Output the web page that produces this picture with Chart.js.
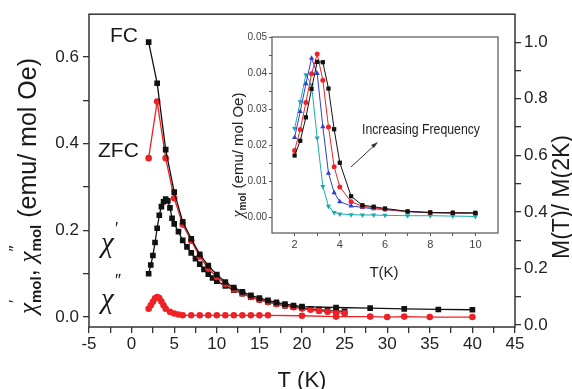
<!DOCTYPE html>
<html>
<head>
<meta charset="utf-8">
<script src="https://cdn.jsdelivr.net/npm/chart.js@4.4.1/dist/chart.umd.min.js"></script>
<style>
  html, body { margin: 0; padding: 0; background: #fff; }
  #wrap { position: relative; width: 572px; height: 389px; overflow: hidden; }
  #mainBox { position: absolute; left: 0; top: 0; width: 572px; height: 389px; }
  #insetBox { position: absolute; left: 228px; top: 28px; width: 280px; height: 255px; }
</style>
</head>
<body>
<div id="wrap">
  <div id="mainBox"><canvas id="mainChart"></canvas></div>
  <div id="insetBox"><canvas id="insetChart"></canvas></div>
</div>
<script>
// ---- main panel : chi' / chi'' (left axis), FC / ZFC magnetisation (right axis) ----
const tChiReal = [2, 2.25, 2.5, 2.75, 3, 3.25, 3.5, 3.75, 4, 4.25, 4.5, 4.75, 5, 5.5, 6, 6.5, 7, 7.5, 8, 8.5, 9, 9.5, 10,
                  11, 12, 13, 14, 15, 16, 17, 18, 19, 20, 21, 22, 23, 24, 25];
const chiReal  = [0.100, 0.120, 0.142, 0.172, 0.205, 0.235, 0.255, 0.266, 0.272, 0.268, 0.252, 0.228, 0.215, 0.197, 0.177,
                  0.162, 0.148, 0.135, 0.122, 0.110, 0.099, 0.090, 0.083,
                  0.072, 0.062, 0.054, 0.046, 0.040, 0.035, 0.030, 0.026, 0.023, 0.021, 0.019, 0.017, 0.015, 0.014, 0.013];

const tChiImag = [2, 2.25, 2.5, 2.75, 3, 3.25, 3.5, 3.75, 4, 4.5, 5, 5.5, 6, 7, 8, 9, 10, 11, 12, 13, 14, 15, 16,
                  20, 24, 28, 30, 32, 35, 40];
const chiImag  = [0.019, 0.027, 0.035, 0.043, 0.046, 0.044, 0.036, 0.027, 0.019, 0.012, 0.008, 0.006, 0.004,
                  0.004, 0.004, 0.004, 0.004, 0.004, 0.004, 0.004, 0.004, 0.004, 0.004,
                  0.003, 0.001, 0.001, 0.000, 0.001, 0.000, 0.000];

const tFC = [2, 3, 4, 5, 6, 7, 8, 9, 10, 11, 12, 13, 14, 15, 16, 17, 18, 19, 20, 24, 28, 32, 36, 40];
const fc  = [1.0, 0.855, 0.62, 0.47, 0.365, 0.305, 0.25, 0.21, 0.178, 0.152, 0.132, 0.117, 0.105, 0.095,
             0.087, 0.080, 0.074, 0.069, 0.065, 0.062, 0.060, 0.057, 0.055, 0.054];

const tZFC = [2, 3, 4, 5, 6, 7, 8, 9, 10, 11, 12, 13, 14, 15, 16, 17, 18, 19, 20, 21, 22, 23, 24, 25];
const zfc  = [0.59, 0.79, 0.59, 0.448, 0.355, 0.298, 0.242, 0.20, 0.17, 0.146, 0.126, 0.112, 0.099, 0.089,
              0.081, 0.074, 0.068, 0.063, 0.058, 0.054, 0.050, 0.047, 0.044, 0.041];

const xTicks  = [-5, -2.5, 0, 2.5, 5, 7.5, 10, 12.5, 15, 17.5, 20, 22.5, 25, 27.5, 30, 32.5, 35, 37.5, 40, 42.5, 45];
const yLTicks = [0, 0.1, 0.2, 0.3, 0.4, 0.5, 0.6];
const yRTicks = [0, 0.1, 0.2, 0.3, 0.4, 0.5, 0.6, 0.7, 0.8, 0.9, 1.0];

// ---- inset : chi'' at several frequencies ----
const tInset = [2, 2.25, 2.5, 2.75, 3, 3.25, 3.5, 3.75, 4, 4.5, 5, 5.5, 6, 7, 8, 9, 10];
const fq1 = [0.0171, 0.0212, 0.0277, 0.0356, 0.0431, 0.0430, 0.0357, 0.0244, 0.0151, 0.0058, 0.0033, 0.0029, 0.0024, 0.0016, 0.0013, 0.0012, 0.0012];
const fq2 = [0.0185, 0.0243, 0.0318, 0.0398, 0.0453, 0.0380, 0.0250, 0.0140, 0.0084, 0.0043, 0.0030, 0.0026, 0.0022, 0.0016, 0.0013, 0.0012, 0.0011];
const fq3 = [0.0221, 0.0293, 0.0370, 0.0441, 0.0399, 0.0251, 0.0122, 0.0068, 0.0043, 0.0031, 0.0027, 0.0023, 0.0021, 0.0015, 0.0012, 0.0011, 0.0010];
const fq4 = [0.0246, 0.0320, 0.0395, 0.0367, 0.0220, 0.0085, 0.0030, 0.0013, 0.0009, 0.0007, 0.0006, 0.0006, 0.0005, 0.0004, 0.0004, 0.0003, 0.0002];

const inXTicks = [2, 3, 4, 5, 6, 7, 8, 9, 10];
const inYTicks = [0, 0.005, 0.01, 0.015, 0.02, 0.025, 0.03, 0.035, 0.04, 0.045, 0.05];

const BLACK = '#111111';
const RED = '#ee2226';
const BLUE = '#2e3fcf';
const CYAN = '#1caab2';
const AXIS = '#333333';
const SANS = 'Liberation Sans, Arial, sans-serif';
const SERIF = 'Liberation Serif, Times New Roman, serif';

const pts = (xs, ys) => xs.map((x, i) => ({ x: x, y: ys[i] }));
const near = (v, step) => Math.abs(v / step - Math.round(v / step)) < 1e-6;

// text made of pieces (sub/superscripts), optionally rotated, centred on cx
function drawRich(ctx, parts, x, y, angle) {
    ctx.save();
    ctx.translate(x, y);
    ctx.rotate(angle);
    ctx.textBaseline = 'alphabetic';
    ctx.textAlign = 'left';
    let total = 0;
    parts.forEach(p => { ctx.font = p.f; if (!p.keep) total += ctx.measureText(p.t).width; });
    let cur = -total / 2;
    parts.forEach(p => {
        ctx.font = p.f;
        ctx.fillText(p.t, cur, p.dy || 0);
        if (!p.keep) cur += ctx.measureText(p.t).width;
    });
    ctx.restore();
}

const mainDecor = {
    id: 'mainDecor',
    afterDraw(chart) {
        const ctx = chart.ctx, a = chart.chartArea;
        ctx.save();
        ctx.strokeStyle = AXIS;
        ctx.lineWidth = 1.5;
        ctx.strokeRect(a.left, a.top, a.right - a.left, a.bottom - a.top);

        ctx.fillStyle = '#1a1a1a';
        ctx.textBaseline = 'alphabetic';
        ctx.font = '21px ' + SANS;
        ctx.fillText('FC', 110, 42);
        ctx.fillText('ZFC', 98, 157);

        ctx.font = 'italic 29px ' + SERIF;
        ctx.fillText('χ', 101, 252);
        ctx.fillText('χ', 101, 308);
        ctx.font = '17px ' + SANS;
        ctx.fillText('′', 115, 234);
        ctx.fillText('″', 115, 286);

        ctx.font = '22px ' + SANS;
        ctx.textAlign = 'center';
        ctx.fillText('T (K)', 302, 387);

        const big = '25px ' + SANS, chi = 'italic 25px ' + SERIF;
        const sub = 'bold 15px ' + SANS, sup = '17px ' + SANS;
        drawRich(ctx, [
            { t: 'χ', f: chi },
            { t: '′', f: sup, dy: -15, keep: true },
            { t: 'mol', f: sub, dy: 5 },
            { t: ', ', f: big },
            { t: 'χ', f: chi },
            { t: '″', f: sup, dy: -15, keep: true },
            { t: 'mol', f: sub, dy: 5 },
            { t: ' (emu/ mol Oe)', f: big }
        ], 36, 186, -Math.PI / 2);

        drawRich(ctx, [{ t: 'M(T)/ M(2K)', f: '23px ' + SANS }], 569, 197, -Math.PI / 2);
        ctx.restore();
    }
};

const axisCommon = {
    grid: { drawOnChartArea: false, drawTicks: true, tickLength: 6, color: AXIS, lineWidth: 1.3 },
    border: { display: false }
};

new Chart(document.getElementById('mainChart'), {
    type: 'line',
    data: {
        datasets: [
            { label: 'FC', data: pts(tFC, fc), yAxisID: 'yR', borderColor: BLACK, backgroundColor: BLACK,
              pointStyle: 'rect', pointRadius: 4 },
            { label: 'ZFC', data: pts(tZFC, zfc), yAxisID: 'yR', borderColor: RED, backgroundColor: RED,
              pointStyle: 'circle', pointRadius: 3.3 },
            { label: "chi'", data: pts(tChiReal, chiReal), yAxisID: 'yL', borderColor: BLACK, backgroundColor: BLACK,
              pointStyle: 'rect', pointRadius: 4 },
            { label: "chi''", data: pts(tChiImag, chiImag), yAxisID: 'yL', borderColor: RED, backgroundColor: RED,
              pointStyle: 'circle', pointRadius: 3.3 }
        ]
    },
    options: {
        responsive: true, maintainAspectRatio: false, animation: false,
        layout: { padding: { top: 14, left: 0, right: 0, bottom: 0 } },
        plugins: { legend: { display: false }, tooltip: { enabled: false } },
        elements: { line: { borderWidth: 1.3, tension: 0 }, point: { borderWidth: 0 } },
        scales: {
            x: Object.assign({}, axisCommon, {
                type: 'linear', min: -5, max: 45,
                afterFit: s => { s.height = 62; },
                afterBuildTicks: s => { s.ticks = xTicks.map(v => ({ value: v })); },
                ticks: { autoSkip: false, maxRotation: 0, padding: 1, color: '#222', font: { family: SANS, size: 17 },
                         callback: v => near(v, 5) ? String(v) : '' }
            }),
            yL: Object.assign({}, axisCommon, {
                type: 'linear', position: 'left', min: -0.023, max: 0.699,
                afterFit: s => { s.width = 89; },
                afterBuildTicks: s => { s.ticks = yLTicks.map(v => ({ value: v })); },
                ticks: { autoSkip: false, padding: 4, color: '#222', font: { family: SANS, size: 17 },
                         callback: v => near(v, 0.2) ? v.toFixed(1) : '' }
            }),
            yR: Object.assign({}, axisCommon, {
                type: 'linear', position: 'right', min: -0.007, max: 1.099,
                afterFit: s => { s.width = 57; },
                afterBuildTicks: s => { s.ticks = yRTicks.map(v => ({ value: v })); },
                ticks: { autoSkip: false, padding: 3, color: '#222', font: { family: SANS, size: 17 },
                         callback: v => near(v, 0.2) ? v.toFixed(1) : '' }
            })
        }
    },
    plugins: [mainDecor]
});

const insetDecor = {
    id: 'insetDecor',
    afterDraw(chart) {
        const ctx = chart.ctx, a = chart.chartArea;
        ctx.save();
        ctx.strokeStyle = '#555';
        ctx.lineWidth = 1.2;
        ctx.strokeRect(a.left, a.top, a.right - a.left, a.bottom - a.top);

        ctx.fillStyle = '#222';
        ctx.font = '15px ' + SANS;
        ctx.textAlign = 'center';
        ctx.fillText('T(K)', 156, 249);

        drawRich(ctx, [
            { t: 'χ', f: 'italic 16px ' + SERIF },
            { t: '″', f: '11px ' + SANS, dy: -10, keep: true },
            { t: 'mol', f: 'bold 10px ' + SANS, dy: 3 },
            { t: ' (emu/ mol Oe)', f: '15px ' + SANS }
        ], 15, 127, -Math.PI / 2);

        // "Increasing Frequency" label, squeezed like the original
        ctx.save();
        ctx.font = '14px ' + SANS;
        const w = ctx.measureText('Increasing Frequency').width;
        ctx.translate(134, 106);
        ctx.scale(118 / w, 1);
        ctx.textAlign = 'left';
        ctx.fillText('Increasing Frequency', 0, 0);
        ctx.restore();

        // arrow
        ctx.strokeStyle = '#333';
        ctx.lineWidth = 1;
        ctx.beginPath();
        ctx.moveTo(123, 139);
        ctx.lineTo(149, 115);
        ctx.stroke();
        ctx.fillStyle = '#333';
        ctx.beginPath();
        ctx.moveTo(150, 114);
        ctx.lineTo(143, 117);
        ctx.lineTo(146, 120);
        ctx.closePath();
        ctx.fill();
        ctx.restore();
    }
};

const inAxis = {
    grid: { drawOnChartArea: false, drawTicks: true, tickLength: 3, color: '#555', lineWidth: 1 },
    border: { display: false }
};

const inSet = (data, color, style, r, rot) => ({
    data: pts(tInset, data), borderColor: color, backgroundColor: color,
    pointStyle: style, pointRadius: r, pointRotation: rot || 0, borderWidth: 1, pointBorderWidth: 0
});

new Chart(document.getElementById('insetChart'), {
    type: 'line',
    data: {
        datasets: [
            inSet(fq1, BLACK, 'rect', 3),
            inSet(fq2, RED, 'circle', 2.5),
            inSet(fq3, BLUE, 'triangle', 3),
            inSet(fq4, CYAN, 'triangle', 3, 180)
        ]
    },
    options: {
        responsive: true, maintainAspectRatio: false, animation: false,
        layout: { padding: { top: 9, right: 10, left: 0, bottom: 0 } },
        plugins: { legend: { display: false }, tooltip: { enabled: false } },
        elements: { line: { tension: 0 } },
        scales: {
            x: Object.assign({}, inAxis, {
                type: 'linear', min: 1, max: 11,
                afterFit: s => { s.height = 50; },
                afterBuildTicks: s => { s.ticks = inXTicks.map(v => ({ value: v })); },
                ticks: { autoSkip: false, maxRotation: 0, padding: 2, color: '#444', font: { family: SANS, size: 11 },
                         callback: v => near(v, 2) ? String(v) : '' }
            }),
            y: Object.assign({}, inAxis, {
                type: 'linear', min: -0.0044, max: 0.05,
                afterFit: s => { s.width = 44; },
                afterBuildTicks: s => { s.ticks = inYTicks.map(v => ({ value: v })); },
                ticks: { autoSkip: false, padding: 2, color: '#444', font: { family: SANS, size: 10 },
                         callback: v => near(v, 0.01) ? v.toFixed(2) : '' }
            })
        }
    },
    plugins: [insetDecor]
});
</script>
</body>
</html>
